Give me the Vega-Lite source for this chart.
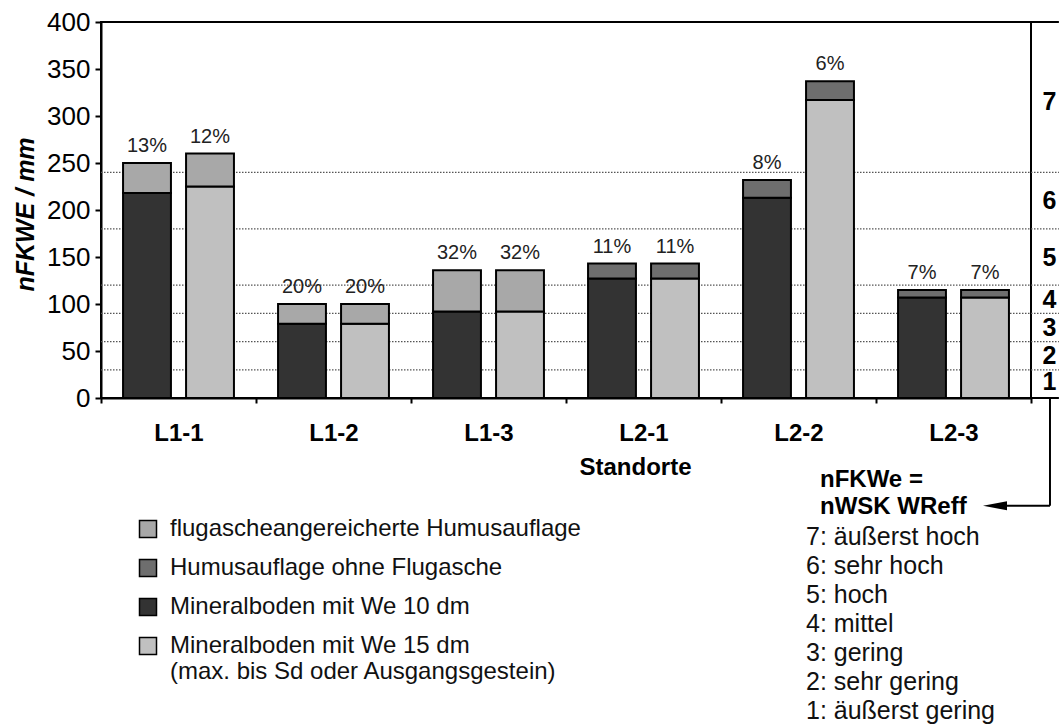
{
  "$schema": "https://vega.github.io/schema/vega-lite/v6.json",
  "width": 930,
  "height": 376,
  "autosize": {"type": "none"},
  "padding": {"left": 101, "top": 22, "right": 28, "bottom": 330},
  "background": "white",
  "config": {
    "font": "Liberation Sans",
    "view": {"stroke": "black", "strokeWidth": 2}
  },
  "datasets": {
    "bars": [
      {"standort": "L1-1", "variante": "We 10 dm", "schicht": "Mineralboden mit We 10 dm", "lage": "unten", "wert": 218},
      {"standort": "L1-1", "variante": "We 10 dm", "schicht": "flugascheangereicherte Humusauflage", "lage": "oben", "wert": 32, "anteil": "13%"},
      {"standort": "L1-1", "variante": "We 15 dm", "schicht": "Mineralboden mit We 15 dm", "lage": "unten", "wert": 225},
      {"standort": "L1-1", "variante": "We 15 dm", "schicht": "flugascheangereicherte Humusauflage", "lage": "oben", "wert": 35, "anteil": "12%"},
      {"standort": "L1-2", "variante": "We 10 dm", "schicht": "Mineralboden mit We 10 dm", "lage": "unten", "wert": 79},
      {"standort": "L1-2", "variante": "We 10 dm", "schicht": "flugascheangereicherte Humusauflage", "lage": "oben", "wert": 21, "anteil": "20%"},
      {"standort": "L1-2", "variante": "We 15 dm", "schicht": "Mineralboden mit We 15 dm", "lage": "unten", "wert": 79},
      {"standort": "L1-2", "variante": "We 15 dm", "schicht": "flugascheangereicherte Humusauflage", "lage": "oben", "wert": 21, "anteil": "20%"},
      {"standort": "L1-3", "variante": "We 10 dm", "schicht": "Mineralboden mit We 10 dm", "lage": "unten", "wert": 92},
      {"standort": "L1-3", "variante": "We 10 dm", "schicht": "flugascheangereicherte Humusauflage", "lage": "oben", "wert": 44, "anteil": "32%"},
      {"standort": "L1-3", "variante": "We 15 dm", "schicht": "Mineralboden mit We 15 dm", "lage": "unten", "wert": 92},
      {"standort": "L1-3", "variante": "We 15 dm", "schicht": "flugascheangereicherte Humusauflage", "lage": "oben", "wert": 44, "anteil": "32%"},
      {"standort": "L2-1", "variante": "We 10 dm", "schicht": "Mineralboden mit We 10 dm", "lage": "unten", "wert": 127},
      {"standort": "L2-1", "variante": "We 10 dm", "schicht": "Humusauflage ohne Flugasche", "lage": "oben", "wert": 16, "anteil": "11%"},
      {"standort": "L2-1", "variante": "We 15 dm", "schicht": "Mineralboden mit We 15 dm", "lage": "unten", "wert": 127},
      {"standort": "L2-1", "variante": "We 15 dm", "schicht": "Humusauflage ohne Flugasche", "lage": "oben", "wert": 16, "anteil": "11%"},
      {"standort": "L2-2", "variante": "We 10 dm", "schicht": "Mineralboden mit We 10 dm", "lage": "unten", "wert": 213},
      {"standort": "L2-2", "variante": "We 10 dm", "schicht": "Humusauflage ohne Flugasche", "lage": "oben", "wert": 19, "anteil": "8%"},
      {"standort": "L2-2", "variante": "We 15 dm", "schicht": "Mineralboden mit We 15 dm", "lage": "unten", "wert": 317},
      {"standort": "L2-2", "variante": "We 15 dm", "schicht": "Humusauflage ohne Flugasche", "lage": "oben", "wert": 20, "anteil": "6%"},
      {"standort": "L2-3", "variante": "We 10 dm", "schicht": "Mineralboden mit We 10 dm", "lage": "unten", "wert": 107},
      {"standort": "L2-3", "variante": "We 10 dm", "schicht": "Humusauflage ohne Flugasche", "lage": "oben", "wert": 8, "anteil": "7%"},
      {"standort": "L2-3", "variante": "We 15 dm", "schicht": "Mineralboden mit We 15 dm", "lage": "unten", "wert": 107},
      {"standort": "L2-3", "variante": "We 15 dm", "schicht": "Humusauflage ohne Flugasche", "lage": "oben", "wert": 8, "anteil": "7%"}
    ],
    "klassen": [
      {"klasse": "1: äußerst gering", "untergrenze": 0},
      {"klasse": "2: sehr gering", "untergrenze": 30},
      {"klasse": "3: gering", "untergrenze": 60},
      {"klasse": "4: mittel", "untergrenze": 90},
      {"klasse": "5: hoch", "untergrenze": 120},
      {"klasse": "6: sehr hoch", "untergrenze": 180},
      {"klasse": "7: äußerst hoch", "untergrenze": 240}
    ]
  },
  "layer": [
    {
      "data": {"name": "klassen"},
      "transform": [{"filter": "datum.untergrenze > 0"}],
      "mark": {"type": "rule", "strokeDash": [1.5, 1.5], "strokeWidth": 1.2},
      "encoding": {
        "x": {"datum": 0, "type": "quantitative", "scale": {"domain": [0, 1], "nice": false, "zero": false}, "axis": null},
        "x2": {"datum": 1.03},
        "y": {
          "field": "untergrenze", "type": "quantitative",
          "scale": {"domain": [0, 400]},
          "axis": null
        },
        "color": {
          "field": "klasse", "type": "nominal",
          "scale": {
            "domain": ["7: äußerst hoch", "6: sehr hoch", "5: hoch", "4: mittel", "3: gering", "2: sehr gering", "1: äußerst gering"],
            "range": ["#555555", "#555555", "#555555", "#555555", "#555555", "#555555", "#555555"]
          },
          "legend": {
            "orient": "none", "legendX": 719, "legendY": 446, "direction": "vertical",
            "title": ["nFKWe =", "nWSK WReff"],
            "titleFontSize": 24, "titleFontWeight": "bold", "titleColor": "black", "titleLineHeight": 27, "titlePadding": 5,
            "labelFontSize": 25, "labelColor": "#111111", "labelLimit": 400,
            "symbolType": "stroke", "symbolSize": 0, "symbolStrokeWidth": 0, "symbolOpacity": 0,
            "labelOffset": -39, "rowPadding": 3, "padding": 0
          }
        }
      }
    },
    {
      "data": {"name": "klassen"},
      "mark": {"type": "rule", "opacity": 0},
      "encoding": {
        "y": {
          "field": "untergrenze", "type": "quantitative",
          "scale": {"domain": [0, 400]},
          "axis": {
            "orient": "right", "title": null, "grid": false, "domain": false, "ticks": false, "tickSize": 0,
            "values": [18, 45, 75, 105, 150, 210, 315],
            "labelExpr": "datum.value == 18 ? '1' : datum.value == 45 ? '2' : datum.value == 75 ? '3' : datum.value == 105 ? '4' : datum.value == 150 ? '5' : datum.value == 210 ? '6' : '7'",
            "labelFontSize": 25, "labelFontWeight": "bold", "labelColor": "black", "labelPadding": 11, "labelBaseline": "middle"
          }
        }
      }
    },
    {
      "data": {"values": [{}]},
      "mark": {"type": "rule", "strokeWidth": 2, "color": "black"},
      "encoding": {
        "x": {"datum": 0, "type": "quantitative", "scale": {"domain": [0, 1], "nice": false, "zero": false}, "axis": null},
        "x2": {"datum": 1.03},
        "y": {"datum": 400, "type": "quantitative", "scale": {"domain": [0, 400]}, "axis": null}
      }
    },
    {
      "data": {"values": [{}]},
      "mark": {"type": "rule", "strokeWidth": 2, "color": "black"},
      "encoding": {
        "x": {"datum": 0, "type": "quantitative", "scale": {"domain": [0, 1], "nice": false, "zero": false}, "axis": null},
        "x2": {"datum": 1.03},
        "y": {"datum": 0, "type": "quantitative", "scale": {"domain": [0, 400]}, "axis": null}
      }
    },
    {
      "data": {"values": [{}]},
      "mark": {"type": "rule", "strokeWidth": 2, "color": "black"},
      "encoding": {
        "x": {"datum": 1.0204, "type": "quantitative", "scale": {"domain": [0, 1], "nice": false, "zero": false}, "axis": null},
        "y": {"datum": 0, "type": "quantitative", "scale": {"domain": [0, 400]}, "axis": null},
        "y2": {"datum": -114.6}
      }
    },
    {
      "data": {"values": [{}]},
      "mark": {"type": "rule", "strokeWidth": 2, "color": "black"},
      "encoding": {
        "x": {"datum": 1.0204, "type": "quantitative", "scale": {"domain": [0, 1], "nice": false, "zero": false}, "axis": null},
        "x2": {"datum": 0.962},
        "y": {"datum": -114.6, "type": "quantitative", "scale": {"domain": [0, 400]}, "axis": null}
      }
    },
    {
      "data": {"values": [{}]},
      "mark": {"type": "point", "shape": "M 1 -0.38 L -1 0 L 1 0.38 Z", "filled": true, "color": "black", "opacity": 1, "size": 576},
      "encoding": {
        "x": {"datum": 0.9613, "type": "quantitative", "scale": {"domain": [0, 1], "nice": false, "zero": false}, "axis": null},
        "y": {"datum": -114.6, "type": "quantitative", "scale": {"domain": [0, 400]}, "axis": null}
      }
    },
    {
      "data": {"name": "bars"},
      "layer": [
        {
          "mark": {"type": "bar", "stroke": "black", "strokeWidth": 2, "opacity": 1},
          "encoding": {
            "x": {
              "field": "standort", "type": "nominal", "sort": null,
              "scale": {"paddingInner": 0, "paddingOuter": 0},
              "axis": {
                "title": "Standorte", "labelAngle": 0, "labelFontSize": 24, "labelFontWeight": "bold", "labelColor": "black",
                "tickBand": "extent", "tickSize": 5, "tickColor": "black", "tickWidth": 2,
                "domain": true, "domainColor": "black", "domainWidth": 2, "labelPadding": 18,
                "titleFontSize": 24, "titleFontWeight": "bold", "titleColor": "black",
                "titleX": 534, "titleY": 57, "titleBaseline": "top"
              }
            },
            "xOffset": {"field": "variante", "type": "nominal", "scale": {"paddingInner": 0.24, "paddingOuter": 0.35}},
            "y": {
              "field": "wert", "type": "quantitative", "stack": "zero",
              "scale": {"domain": [0, 400]},
              "axis": {
                "title": "nFKWE / mm", "values": [0, 50, 100, 150, 200, 250, 300, 350, 400], "grid": false,
                "labelFontSize": 26, "labelColor": "black", "labelPadding": 5,
                "tickSize": 6, "tickColor": "black", "tickWidth": 2,
                "domainColor": "black", "domainWidth": 2,
                "titleFontSize": 25, "titleFontWeight": "bold", "titleFontStyle": "italic", "titleColor": "black",
                "titleX": -68, "titleY": 192, "titleBaseline": "alphabetic"
              }
            },
            "color": {
              "field": "schicht", "type": "nominal",
              "scale": {
                "domain": ["flugascheangereicherte Humusauflage", "Humusauflage ohne Flugasche", "Mineralboden mit We 10 dm", "Mineralboden mit We 15 dm"],
                "range": ["#a8a8a8", "#6e6e6e", "#333333", "#c0c0c0"]
              },
              "legend": {
                "orient": "none", "legendX": 35, "legendY": 495, "direction": "vertical", "title": null,
                "symbolType": "square", "symbolSize": 289, "symbolStrokeColor": "black", "symbolStrokeWidth": 1.5, "symbolOpacity": 1,
                "labelFontSize": 24, "labelColor": "#111111", "labelOffset": 10, "rowPadding": 15, "padding": 0, "labelLimit": 600,
                "labelExpr": "datum.label == 'Mineralboden mit We 15 dm' ? ['Mineralboden mit We 15 dm', '(max. bis Sd oder Ausgangsgestein)'] : datum.label"
              }
            },
            "order": {"field": "lage", "sort": "descending"}
          }
        },
        {
          "transform": [
            {"joinaggregate": [{"op": "sum", "field": "wert", "as": "gesamt"}], "groupby": ["standort", "variante"]},
            {"filter": "datum.anteil != null"}
          ],
          "mark": {"type": "text", "baseline": "alphabetic", "dy": -11, "fontSize": 20, "color": "#222222"},
          "encoding": {
            "x": {"field": "standort", "type": "nominal", "sort": null},
            "xOffset": {"field": "variante", "type": "nominal"},
            "y": {"field": "gesamt", "type": "quantitative"},
            "text": {"field": "anteil"}
          }
        }
      ]
    }
  ],
  "resolve": {
    "scale": {"x": "independent", "color": "independent"},
    "axis": {"x": "independent", "y": "independent"}
  }
}
